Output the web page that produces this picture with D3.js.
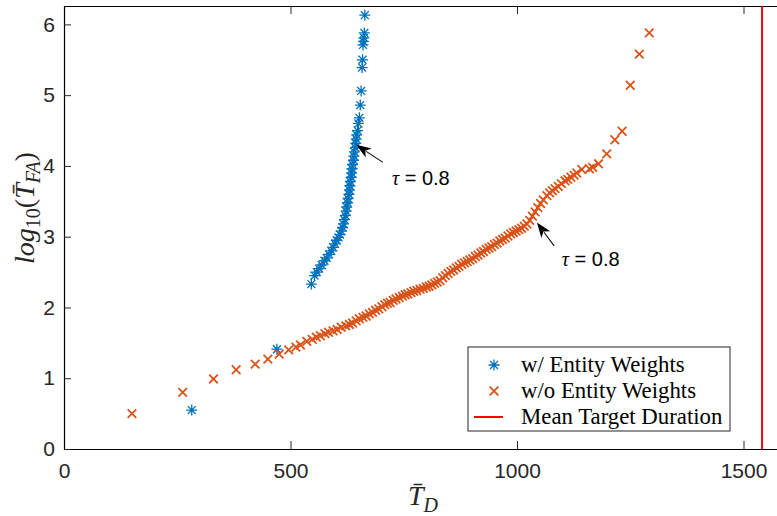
<!DOCTYPE html>
<html>
<head>
<meta charset="utf-8">
<script src="https://cdn.jsdelivr.net/npm/d3@7"></script>
<style>
  body { margin: 0; background: #fff; }
  svg { display: block; }
</style>
</head>
<body>
<div class="scatter_chart"></div>
<script>
// w/ Entity Weights (blue asterisks)
const withX = [282, 470, 546, 553, 558, 563, 569, 575, 580, 585, 590, 594, 598, 602, 606, 609, 612, 615, 617, 619, 621, 623, 624, 626, 627, 629, 630, 631, 632, 634, 635, 636, 637, 639, 640, 641, 643, 644, 645, 646, 648, 650, 652, 654, 656, 658, 659, 660, 661, 662, 663, 664]
const withY = [0.55, 1.41, 2.33, 2.45, 2.50, 2.55, 2.60, 2.66, 2.70, 2.75, 2.80, 2.85, 2.90, 2.95, 2.99, 3.03, 3.08, 3.13, 3.18, 3.24, 3.30, 3.36, 3.42, 3.48, 3.54, 3.60, 3.66, 3.72, 3.78, 3.84, 3.90, 3.96, 4.02, 4.08, 4.14, 4.20, 4.26, 4.32, 4.38, 4.44, 4.50, 4.60, 4.68, 4.86, 5.06, 5.39, 5.50, 5.71, 5.76, 5.81, 5.88, 6.13]

// w/o Entity Weights (orange crosses)
const withoutX = [150, 262, 330, 380, 422, 450, 475, 496, 512, 522, 536, 548, 557, 566, 576, 584, 594, 603, 612, 622, 630, 637, 645, 652, 660, 667, 674, 681, 688, 695, 702, 708, 714, 720, 727, 733, 740, 747, 753, 759, 766, 772, 779, 786, 793, 800, 806, 812, 818, 824, 830, 836, 842, 848, 854, 860, 866, 872, 878, 884, 890, 896, 902, 908, 914, 920, 926, 932, 938, 944, 950, 956, 962, 968, 974, 980, 986, 992, 998, 1004, 1010, 1016, 1022, 1028, 1034, 1040, 1046, 1052, 1058, 1066, 1072, 1078, 1084, 1091, 1098, 1106, 1112, 1119, 1126, 1132, 1143, 1160, 1167, 1180, 1198, 1216, 1232, 1250, 1270, 1292]
const withoutY = [0.50, 0.80, 0.99, 1.12, 1.20, 1.27, 1.34, 1.40, 1.44, 1.47, 1.52, 1.55, 1.58, 1.60, 1.63, 1.65, 1.67, 1.69, 1.72, 1.74, 1.76, 1.78, 1.81, 1.84, 1.86, 1.88, 1.91, 1.93, 1.96, 1.98, 2.01, 2.04, 2.06, 2.07, 2.10, 2.12, 2.14, 2.16, 2.18, 2.19, 2.21, 2.23, 2.24, 2.26, 2.27, 2.29, 2.30, 2.32, 2.34, 2.36, 2.38, 2.42, 2.45, 2.48, 2.51, 2.53, 2.56, 2.58, 2.61, 2.63, 2.65, 2.67, 2.69, 2.72, 2.74, 2.77, 2.79, 2.82, 2.84, 2.86, 2.89, 2.91, 2.94, 2.96, 2.98, 3.01, 3.04, 3.06, 3.08, 3.10, 3.12, 3.15, 3.18, 3.23, 3.29, 3.35, 3.41, 3.47, 3.52, 3.58, 3.62, 3.65, 3.68, 3.71, 3.75, 3.79, 3.81, 3.84, 3.87, 3.90, 3.95, 3.96, 3.98, 4.03, 4.17, 4.37, 4.49, 5.14, 5.58, 5.88]

const meanTarget = 1541
const xTicks = [0, 500, 1000, 1500]
const yTicks = [0, 1, 2, 3, 4, 5, 6]
const legendLabels = ['w/ Entity Weights', 'w/o Entity Weights', 'Mean Target Duration']
const colors = {blue: '#0072BD', orange: '#D95319', red: '#FF0000'}

const width = 777
const height = 516
const plotLeft = 64
const plotTop = 6
const plotBottom = 449

const x = d3.scaleLinear().domain([0, 1600]).range([plotLeft, plotLeft + 1600 * 0.453])
const y = d3.scaleLinear().domain([0, 6.26]).range([plotBottom, plotTop])

const svg = d3.select('.scatter_chart').append('svg')
  .attr('width', width)
  .attr('height', height)

// axes
const axisColor = '#262626'
const fmt = d3.format('d')
const xAxis = svg.append('g')
  .attr('transform', 'translate(0,' + plotBottom + ')')
  .call(d3.axisBottom(x).tickValues(xTicks).tickFormat(fmt).tickSizeInner(-8).tickSizeOuter(0))
const xTop = svg.append('g')
  .attr('transform', 'translate(0,' + plotTop + ')')
  .call(d3.axisTop(x).tickValues(xTicks).tickSizeInner(-8).tickSizeOuter(0).tickFormat(''))
const yAxis = svg.append('g')
  .attr('transform', 'translate(' + plotLeft + ',0)')
  .call(d3.axisLeft(y).tickValues(yTicks).tickFormat(fmt).tickSizeInner(-7).tickSizeOuter(0))

;[xAxis, xTop, yAxis].forEach((g) => {
  g.select('.domain').attr('stroke', '#000').attr('stroke-width', 1.2)
  g.selectAll('.tick line').attr('stroke', axisColor).attr('stroke-width', 1)
  g.selectAll('.tick text')
    .attr('fill', axisColor)
    .style('font-family', '"Liberation Sans", Arial, sans-serif')
    .style('font-size', '21px')
})
xAxis.selectAll('.tick text').attr('dy', '0.72em').attr('y', 14)
yAxis.selectAll('.tick text').attr('x', -9)

// mean target duration line
svg.append('line')
  .attr('x1', x(meanTarget)).attr('x2', x(meanTarget))
  .attr('y1', y(0)).attr('y2', plotTop)
  .attr('stroke', colors.red)
  .attr('stroke-width', 2)

const asterisk = (r) => {
  const d = r * 0.72
  return `M${-r},0L${r},0M0,${-r}L0,${r}M${-d},${-d}L${d},${d}M${-d},${d}L${d},${-d}`
}
const cross = (r) => `M${-r},${-r}L${r},${r}M${-r},${r}L${r},${-r}`

// blue series
svg.append('g').selectAll('path')
  .data(withX.map((v, i) => [v, withY[i]]))
  .enter().append('path')
  .attr('transform', (d) => 'translate(' + x(d[0]) + ',' + y(d[1]) + ')')
  .attr('d', asterisk(5.5))
  .attr('fill', 'none')
  .attr('stroke', colors.blue)
  .attr('stroke-width', 1.3)

// orange series
svg.append('g').selectAll('path')
  .data(withoutX.map((v, i) => [v, withoutY[i]]))
  .enter().append('path')
  .attr('transform', (d) => 'translate(' + x(d[0]) + ',' + y(d[1]) + ')')
  .attr('d', cross(4.3))
  .attr('fill', 'none')
  .attr('stroke', colors.orange)
  .attr('stroke-width', 1.8)

// annotations
const arrow = (x1, y1, x2, y2) => {
  const ang = Math.atan2(y2 - y1, x2 - x1)
  const hl = 15
  const hw = 5.5
  const g = svg.append('g').attr('transform', 'translate(' + x2 + ',' + y2 + ') rotate(' + ang * 180 / Math.PI + ')')
  const len = Math.hypot(x2 - x1, y2 - y1)
  g.append('line').attr('x1', -len).attr('y1', 0).attr('x2', -hl + 3).attr('y2', 0)
    .attr('stroke', '#000').attr('stroke-width', 1)
  g.append('path').attr('d', `M0,0L${-hl},${-hw}L${-hl + 4},0L${-hl},${hw}Z`).attr('fill', '#000')
}
const label = (px, py) => {
  const t = svg.append('text').attr('x', px).attr('y', py)
    .style('font-family', '"Liberation Sans", Arial, sans-serif')
    .style('font-size', '20px')
    .attr('fill', '#000')
  t.append('tspan').style('font-family', '"Liberation Serif", serif').style('font-style', 'italic').text('τ')
  t.append('tspan').text(' = 0.8')
}
arrow(x(704), y(4.05), x(645), y(4.30))
label(x(724), y(3.73))
arrow(x(1082), y(2.87), x(1044), y(3.20))
label(x(1099), y(2.59))

// axis labels
const serif = '"Liberation Serif", "Times New Roman", serif'
const xl = svg.append('text')
  .attr('x', 423).attr('y', 505)
  .attr('text-anchor', 'middle')
  .style('font-family', serif).style('font-size', '28px').attr('fill', axisColor)
xl.append('tspan').style('font-style', 'italic').text('T\u0304')
xl.append('tspan').style('font-style', 'italic').style('font-size', '20px').attr('dy', 7).text('D')

const yl = svg.append('text')
  .attr('transform', 'translate(34,' + 208 + ') rotate(-90)')
  .attr('text-anchor', 'middle')
  .style('font-family', serif).style('font-size', '28px').attr('fill', axisColor)
yl.append('tspan').style('font-style', 'italic').text('log')
yl.append('tspan').style('font-size', '20px').attr('dy', 6).text('10')
yl.append('tspan').attr('dy', -6).text('(')
yl.append('tspan').style('font-style', 'italic').text('T\u0304')
yl.append('tspan').style('font-style', 'italic').style('font-size', '20px').attr('dy', 6).text('FA')
yl.append('tspan').attr('dy', -6).text(')')

// legend
const lg = svg.append('g')
lg.append('rect')
  .attr('x', 468).attr('y', 347).attr('width', 262).attr('height', 84)
  .attr('fill', '#fff').attr('stroke', axisColor).attr('stroke-width', 1)
const rows = [365, 391, 417]
legendLabels.forEach((name, i) => {
  const ry = rows[i]
  if (i === 0) {
    lg.append('path').attr('transform', 'translate(494,' + ry + ')').attr('d', asterisk(5.5))
      .attr('fill', 'none').attr('stroke', colors.blue).attr('stroke-width', 1.3)
  } else if (i === 1) {
    lg.append('path').attr('transform', 'translate(494,' + ry + ')').attr('d', cross(4.3))
      .attr('fill', 'none').attr('stroke', colors.orange).attr('stroke-width', 1.8)
  } else {
    lg.append('line').attr('x1', 474).attr('x2', 503).attr('y1', ry).attr('y2', ry)
      .attr('stroke', colors.red).attr('stroke-width', 2)
  }
  lg.append('text').attr('x', 521).attr('y', ry + 7)
    .style('font-family', serif).style('font-size', '22.8px').attr('fill', '#000')
    .text(name)
})
</script>
</body>
</html>
